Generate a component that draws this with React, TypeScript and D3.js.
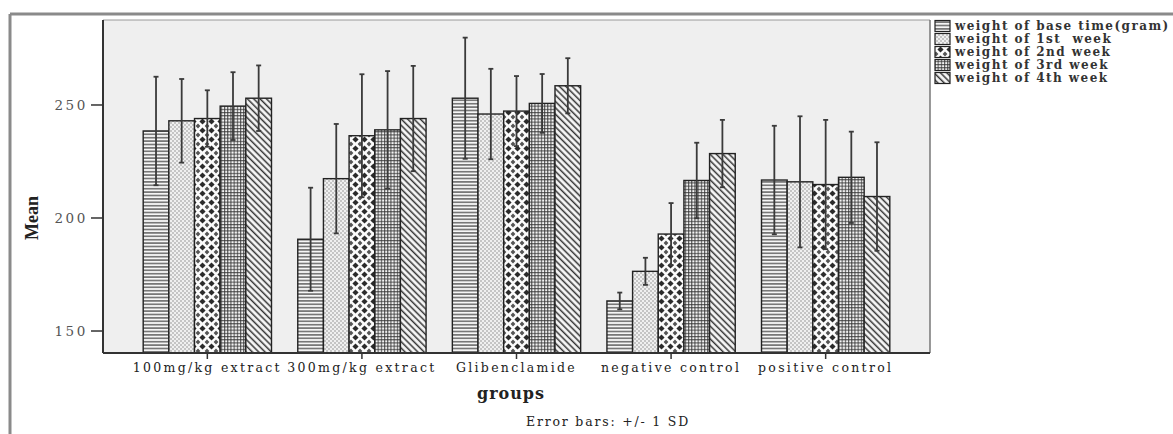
import React from 'react';
import * as d3 from 'd3';

const groups = ['100mg/kg extract', '300mg/kg extract', 'Glibenclamide', 'negative control', 'positive control'];
const seriesNames = ['weight of base time(gram)', 'weight of 1st  week', 'weight of 2nd week', 'weight of 3rd week', 'weight of 4th week'];

// means per series, in group order
const baseMean = [238.5, 190.6, 253, 163.3, 216.8];
const week1Mean = [243, 217.4, 246, 176.4, 216];
const week2Mean = [244, 236.4, 247.3, 192.9, 214.8];
const week3Mean = [249.5, 239, 250.7, 216.6, 218];
const week4Mean = [253, 244, 258.5, 228.5, 209.5];

// standard deviations
const baseSd = [24, 22.8, 26.8, 3.7, 24];
const week1Sd = [18.5, 24.2, 20, 6, 29];
const week2Sd = [12.5, 27.2, 15.5, 13.7, 28.6];
const week3Sd = [15, 26, 13, 16.7, 20.2];
const week4Sd = [14.5, 23.3, 12.2, 14.9, 24];

const yTicks = [150, 200, 250];

const means = [baseMean, week1Mean, week2Mean, week3Mean, week4Mean];
const sds = [baseSd, week1Sd, week2Sd, week3Sd, week4Sd];
const patternIds = ['pat-h', 'pat-dot', 'pat-dia', 'pat-grid', 'pat-diag'];

const W = 1173;
const H = 434;
const plot = { left: 103, right: 930, top: 20, bottom: 353 };
const serif = '"DejaVu Serif", serif';

export default function App() {
  const x0 = d3.scaleBand<string>().domain(groups).range([plot.left, plot.right]).paddingInner(0.17).paddingOuter(0.26);
  const x1 = d3.scaleBand<string>().domain(seriesNames).range([0, x0.bandwidth()]).padding(0);
  const y = d3.scaleLinear().domain([140.27, 287.6]).range([plot.bottom, plot.top]);

  const bars = groups.flatMap((g, gi) =>
    seriesNames.map((s, si) => ({ g, s, si, mean: means[si][gi], sd: sds[si][gi] }))
  );

  return (
    <svg width={W} height={H} style={{ position: 'absolute', left: 0, top: 0, background: '#fff' }}>
      <defs>
        <pattern id="pat-h" width={4} height={3.4} patternUnits="userSpaceOnUse">
          <rect width={4} height={3.4} fill="#f6f6f6" />
          <line x1={0} x2={4} y1={1.7} y2={1.7} stroke="#333" strokeWidth={1.1} />
        </pattern>
        <pattern id="pat-dot" width={4} height={4} patternUnits="userSpaceOnUse">
          <rect width={4} height={4} fill="#f0f0f0" />
          <circle cx={1} cy={1} r={0.8} fill="#8e8e8e" />
          <circle cx={3} cy={3} r={0.8} fill="#8e8e8e" />
        </pattern>
        <pattern id="pat-dia" width={9} height={9} patternUnits="userSpaceOnUse">
          <rect width={9} height={9} fill="#fbfbfb" />
          <path d="M4.5,1.4L7.6,4.5L4.5,7.6L1.4,4.5Z" fill="#2a2a2a" />
          <path d="M0,0L2.4,0L0,2.4Z M9,0L6.6,0L9,2.4Z M0,9L2.4,9L0,6.6Z M9,9L6.6,9L9,6.6Z" fill="#555" />
        </pattern>
        <pattern id="pat-grid" width={3.2} height={3.2} patternUnits="userSpaceOnUse">
          <rect width={3.2} height={3.2} fill="#f4f4f4" />
          <line x1={0.6} x2={0.6} y1={0} y2={3.2} stroke="#333" strokeWidth={0.9} />
          <line x1={0} x2={3.2} y1={0.6} y2={0.6} stroke="#333" strokeWidth={0.9} />
        </pattern>
        <pattern id="pat-diag" width={4.5} height={4.5} patternUnits="userSpaceOnUse" patternTransform="rotate(-45)">
          <rect width={4.5} height={4.5} fill="#f6f6f6" />
          <line x1={1.5} x2={1.5} y1={0} y2={4.5} stroke="#333" strokeWidth={1.5} />
        </pattern>
      </defs>

      {/* outer frame */}
      <line x1={10} x2={W} y1={14} y2={14} stroke="#8a8a8a" strokeWidth={3} />
      <line x1={10} x2={10} y1={14} y2={H} stroke="#8a8a8a" strokeWidth={3} />

      {/* plot background */}
      <rect x={plot.left} y={plot.top} width={plot.right - plot.left} height={plot.bottom - plot.top} fill="#efefef" />
      <line x1={plot.left} x2={plot.right} y1={plot.top} y2={plot.top} stroke="#9a9a9a" strokeWidth={1} />
      <line x1={plot.right} x2={plot.right} y1={plot.top} y2={plot.bottom} stroke="#777" strokeWidth={1.5} />

      {/* bars */}
      {bars.map((b) => {
        const bx = (x0(b.g) ?? 0) + (x1(b.s) ?? 0);
        return (
          <rect
            key={`${b.g}-${b.s}`}
            x={bx}
            y={y(b.mean)}
            width={x1.bandwidth()}
            height={plot.bottom - y(b.mean)}
            fill={`url(#${patternIds[b.si]})`}
            stroke="#222"
            strokeWidth={1.4}
          />
        );
      })}

      {/* error bars */}
      {bars.map((b) => {
        const cx = (x0(b.g) ?? 0) + (x1(b.s) ?? 0) + x1.bandwidth() / 2;
        const top = y(b.mean + b.sd);
        const bot = y(b.mean - b.sd);
        return (
          <g key={`e-${b.g}-${b.s}`} stroke="#3a3a3a">
            <line x1={cx} x2={cx} y1={top} y2={bot} strokeWidth={1.8} />
            <line x1={cx - 2.5} x2={cx + 2.5} y1={top} y2={top} strokeWidth={1.8} />
            <line x1={cx - 2.5} x2={cx + 2.5} y1={bot} y2={bot} strokeWidth={1.8} />
          </g>
        );
      })}

      {/* axes */}
      <line x1={plot.left} x2={plot.left} y1={plot.top} y2={plot.bottom} stroke="#333" strokeWidth={2} />
      <line x1={plot.left} x2={plot.right} y1={plot.bottom} y2={plot.bottom} stroke="#333" strokeWidth={2} />
      {yTicks.map((t) => (
        <g key={t}>
          <line x1={plot.left - 12} x2={plot.left} y1={y(t)} y2={y(t)} stroke="#333" strokeWidth={1.5} />
          <text x={plot.left - 15} y={y(t)} dy="0.35em" textAnchor="end" fontFamily={serif} fontSize={13.5} fill="#555" letterSpacing={2.6}>
            {t}
          </text>
        </g>
      ))}
      {groups.map((g) => {
        const cx = (x0(g) ?? 0) + x0.bandwidth() / 2;
        return (
          <g key={g}>
            <line x1={cx} x2={cx} y1={plot.bottom} y2={plot.bottom + 6} stroke="#333" strokeWidth={1.5} />
            <text x={cx} y={372} textAnchor="middle" fontFamily={serif} fontSize={12.5} fill="#222" letterSpacing={2.3}>
              {g}
            </text>
          </g>
        );
      })}

      <text transform="translate(38,218) rotate(-90)" textAnchor="middle" fontFamily='"Liberation Serif", serif' fontWeight="bold" fontSize={18} fill="#222">
        Mean
      </text>
      <text x={511} y={399} textAnchor="middle" fontFamily={serif} fontWeight="bold" fontSize={16} fill="#222" letterSpacing={1}>
        groups
      </text>
      <text x={608} y={426} textAnchor="middle" fontFamily={serif} fontSize={12.5} fill="#222" letterSpacing={1.8}>
        Error bars: +/- 1 SD
      </text>

      {/* legend */}
      {seriesNames.map((s, i) => {
        const ly = 26 + i * 13;
        return (
          <g key={s}>
            <rect x={935} y={ly - 5.5} width={15} height={11} fill={`url(#${patternIds[i]})`} stroke="#222" strokeWidth={1.2} />
            <text x={955} y={ly} dy="0.35em" fontFamily={serif} fontWeight="bold" fontSize={12} fill="#333" letterSpacing={1.45} style={{ whiteSpace: 'pre' }}>
              {s}
            </text>
          </g>
        );
      })}
    </svg>
  );
}
